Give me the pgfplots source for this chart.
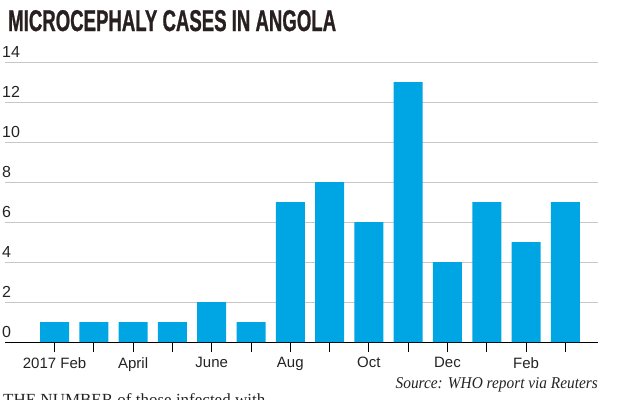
\documentclass[border=0pt]{standalone}
\usepackage{fontspec}
\setmainfont{Liberation Sans}
\newfontfamily\titlefont[FakeStretch=0.62, FakeBold=0.8]{Liberation Sans}
\newfontfamily\sourcefont[FakeStretch=0.93]{Liberation Serif}
\usepackage{pgfplots}
\pgfplotsset{compat=1.18}
\definecolor{barblue}{RGB}{0,166,228}
\definecolor{titlecol}{RGB}{40,32,32}
\definecolor{labcol}{RGB}{35,35,35}
\begin{document}
\begin{tikzpicture}
\useasboundingbox (0pt,0pt) rectangle (618pt,-399pt);
\node[anchor=base west, inner sep=0, font=\titlefont\bfseries\fontsize{30}{30}\selectfont, text=titlecol] at (8pt,-31pt) {MICROCEPHALY CASES IN ANGOLA};
\begin{axis}[
 at={(5pt,-342pt)}, anchor=south west,
 scale only axis, width=593pt, height=280pt,
 xmin=-1.26, xmax=13.83, ymin=0, ymax=14,
 axis x line=bottom, axis y line=left, axis line style={-},
 y axis line style={draw=none},
 x axis line style={black, line width=1pt},
 ytick={0,2,...,14},
 ymajorgrids, grid style={black!22, line width=0.7pt},
 ytick style={draw=none},
 xtick={0,...,13},
 xticklabels={2017 Feb,,April,,June,,Aug,,Oct,,Dec,,Feb,},
 xtick style={black, line width=0.8pt},
 tick align=outside, major tick length=10pt,
 /pgf/number format/assume math mode=true,
 yticklabel style={anchor=south west, inner sep=0pt, xshift=7pt, yshift=4pt, font=\fontsize{16}{16}\selectfont, text=labcol},
 xticklabel style={inner sep=0pt, yshift=-5pt, font=\fontsize{15}{15}\selectfont, text=labcol},
 ybar, bar width=29pt, bar shift=0pt,
 clip=false,
]
\addplot[fill=barblue, draw=none] coordinates {
 (0,1) (1,1) (2,1) (3,1) (4,2) (5,1) (6,7) (7,8) (8,6) (9,13) (10,4) (11,7) (12,5) (13,7)
};
\end{axis}
\node[anchor=base east, inner sep=0, font=\sourcefont\itshape\fontsize{16.5}{16.5}\selectfont, text=labcol] at (598pt,-388pt) {Source: WHO report via Reuters};
\begin{scope}
\clip (0pt,0pt) rectangle (618pt,-399pt);
\node[anchor=base west, inner sep=0, font=\fontspec{Liberation Serif}\fontsize{17}{17}\selectfont, text=labcol] at (3pt,-405pt) {THE NUMBER of those infected with};
\end{scope}
\end{tikzpicture}
\end{document}
